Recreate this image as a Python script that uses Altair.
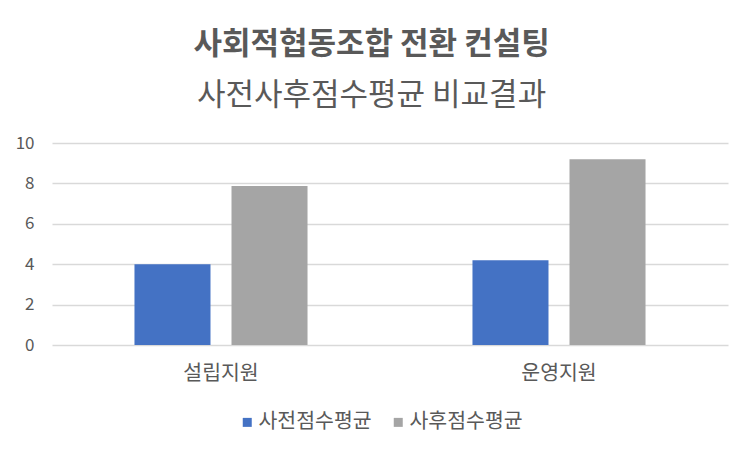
import altair as alt
import pandas as pd

categories = ["설립지원", "운영지원"]
series = ["사전점수평균", "사후점수평균"]
pre_scores = [4.0, 4.2]
post_scores = [7.87, 9.2]
colors = ["#4472C4", "#A5A5A5"]
y_ticks = [0, 2, 4, 6, 8, 10]

rows = []
for i, c in enumerate(categories):
    rows.append({"category": c, "series": series[0], "value": pre_scores[i]})
    rows.append({"category": c, "series": series[1], "value": post_scores[i]})
df = pd.DataFrame(rows)

FONT = "Noto Sans CJK KR"
TXT = "#595959"

chart = alt.Chart(df).mark_bar().encode(
    x=alt.X("category:N", sort=categories, title=None,
            scale=alt.Scale(paddingInner=0, paddingOuter=0),
            axis=alt.Axis(labelAngle=0, domain=False, ticks=False, grid=False,
                          labelFont=FONT, labelFontSize=20.5, labelColor=TXT,
                          labelPadding=18)),
    xOffset=alt.XOffset("series:N", sort=series,
                        scale=alt.Scale(paddingInner=0.2165, paddingOuter=0.85)),
    y=alt.Y("value:Q", title=None,
            scale=alt.Scale(domain=[0, 10], nice=False),
            axis=alt.Axis(values=y_ticks, domain=False, ticks=False, labelFont=FONT,
                          labelFontSize=17, labelColor=TXT, labelPadding=18,
                          gridColor="#D9D9D9", gridWidth=1.3)),
    color=alt.Color("series:N", sort=series,
                    scale=alt.Scale(domain=series, range=colors),
                    legend=alt.Legend(title=None, orient="none", direction="horizontal",
                                      legendX=185, legendY=269,
                                      symbolType="square", symbolSize=81,
                                      symbolStrokeWidth=0, labelFont=FONT,
                                      labelFontSize=20.5, labelColor=TXT,
                                      labelOffset=1, columnPadding=16)),
).properties(
    width=676,
    height=202,
    background="white",
    padding={"left": 44, "top": 135, "right": 16, "bottom": 90},
    autosize=alt.AutoSizeParams(type="none"),
    title=alt.TitleParams(
        text="사회적협동조합 전환 컨설팅",
        subtitle="사전사후점수평균 비교결과",
        anchor="middle", frame="bounds",
        font=FONT, fontSize=31, fontWeight="bold", color=TXT,
        subtitleFont=FONT, subtitleFontSize=31, subtitleColor=TXT,
        subtitlePadding=20, offset=22,
    ),
).configure_view(strokeWidth=0, stroke="transparent")

chart.save("out.html", embed_options={"renderer": "svg", "actions": False})
